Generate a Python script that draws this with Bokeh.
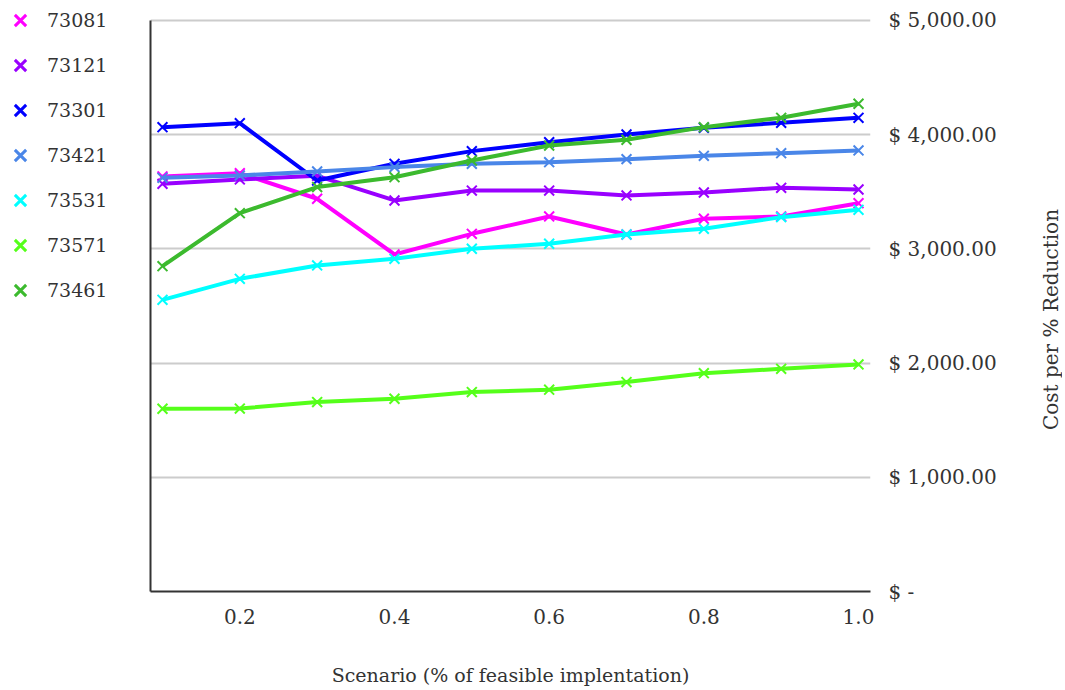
from bokeh.plotting import figure
from bokeh.layouts import row
from bokeh.models import (Range1d, FixedTicker, Legend, LegendItem,
                          ColumnDataSource, Label, LinearAxis)
from bokeh.embed import file_html
from bokeh.resources import INLINE

scenario = [0.1, 0.2, 0.3, 0.4, 0.5, 0.6, 0.7, 0.8, 0.9, 1.0]
s73081 = [3634, 3663, 3439, 2951, 3132, 3284, 3126, 3264, 3284, 3400]
s73121 = [3570, 3608, 3640, 3424, 3511, 3511, 3468, 3494, 3535, 3520]
s73301 = [4066, 4101, 3599, 3745, 3856, 3934, 4002, 4060, 4104, 4148]
s73421 = [3622, 3643, 3678, 3716, 3745, 3759, 3786, 3815, 3838, 3862]
s73531 = [2554, 2738, 2855, 2913, 3001, 3045, 3126, 3176, 3278, 3342]
s73571 = [1600, 1602, 1659, 1688, 1746, 1767, 1834, 1912, 1950, 1988]
s73461 = [2849, 3313, 3541, 3628, 3774, 3905, 3955, 4066, 4148, 4271]

series_names = ["73081", "73121", "73301", "73421", "73531", "73571", "73461"]
series_values = [s73081, s73121, s73301, s73421, s73531, s73571, s73461]
colors = ["#ff00ff", "#9900ff", "#0000ff", "#4a86e8", "#00ffff", "#55ff1a", "#3cba2e"]

x_ticks = [0.2, 0.4, 0.6, 0.8, 1.0]
y_ticks = [0, 1000, 2000, 3000, 4000, 5000]
y_tick_labels = ["$ -", "$ 1,000.00", "$ 2,000.00", "$ 3,000.00", "$ 4,000.00", "$ 5,000.00"]

FONT = "DejaVu Serif"
TXT = "#333333"
H = 688
FRAME_BOTTOM = 591   # page y of the plot frame's bottom edge

# ---------------- main chart ----------------
p = figure(width=890, height=H, output_backend="svg", toolbar_location=None,
           x_range=Range1d(0.0845, 1.0155), y_range=Range1d(0, 5175),
           y_axis_location="right",
           min_border_left=10, min_border_right=160, min_border_top=0,
           min_border_bottom=97)
p.outline_line_color = None
p.background_fill_color = "white"
p.border_fill_color = "white"

xa = p.xaxis[0]
xa.ticker = FixedTicker(ticks=x_ticks)
xa.major_label_overrides = {t: f"{t:.1f}" for t in x_ticks}
xa.axis_line_color = "#333333"
xa.axis_line_width = 2
xa.major_tick_line_color = None
xa.minor_tick_line_color = None
xa.major_tick_out = 0
xa.major_label_text_font = FONT
xa.major_label_text_font_size = "20px"
xa.major_label_text_color = TXT
xa.major_label_standoff = 17
xa.axis_label = "Scenario (% of feasible implentation)"
xa.axis_label_text_font = FONT
xa.axis_label_text_font_size = "19px"
xa.axis_label_text_font_style = "normal"
xa.axis_label_text_color = TXT
xa.axis_label_standoff = 37

ya = p.yaxis[0]
ya.ticker = FixedTicker(ticks=y_ticks)
ya.major_label_overrides = dict(zip(y_ticks, y_tick_labels))
ya.axis_line_color = None
ya.major_tick_line_color = None
ya.minor_tick_line_color = None
ya.major_tick_out = 0
ya.major_label_text_font = FONT
ya.major_label_text_font_size = "20px"
ya.major_label_text_color = TXT
ya.major_label_standoff = 18

# left axis: line only, spanning the value range
la = LinearAxis(ticker=FixedTicker(ticks=[]), bounds=(y_ticks[0], y_ticks[-1]),
                major_tick_out=0, major_tick_in=0, major_label_standoff=0,
                major_tick_line_color=None, minor_tick_line_color=None,
                axis_line_color="#333333", axis_line_width=2)
p.add_layout(la, "left")

p.xgrid.grid_line_color = None
p.ygrid.grid_line_color = "#cccccc"
p.ygrid.grid_line_width = 2

for vals, col in zip(series_values, colors):
    src = ColumnDataSource(dict(x=scenario, y=vals))
    p.line("x", "y", source=src, line_color=col, line_width=4)
    p.scatter("x", "y", source=src, marker="x", size=14, line_color=col,
              line_width=2)

# ---------------- legend panel (left) ----------------
lg = figure(width=140, height=H, output_backend="svg", toolbar_location=None,
            x_range=Range1d(-3, -2), y_range=Range1d(-3, -2),
            x_axis_type=None, y_axis_type=None,
            min_border_left=0, min_border_right=0, min_border_top=0,
            min_border_bottom=0)
lg.outline_line_color = None
lg.grid.visible = False
items = []
for name, vals, col in zip(series_names, series_values, colors):
    r = lg.scatter(x=scenario[:1], y=vals[:1], marker="x", size=14,
                   line_color=col, line_width=3)
    items.append(LegendItem(label=name, renderers=[r]))
legend = Legend(items=items, location=(0, FRAME_BOTTOM - 310),
                orientation="vertical",
                glyph_width=40, glyph_height=40, label_height=20,
                spacing=5, padding=0, margin=0, label_standoff=7,
                label_text_font=FONT, label_text_font_size="19px",
                label_text_color=TXT, border_line_color=None,
                background_fill_alpha=0)
lg.add_layout(legend, "center")

# ---------------- right axis title ----------------
tf = figure(width=32, height=H, output_backend="svg", toolbar_location=None,
            x_range=Range1d(0, 1), y_range=Range1d(0, 1),
            x_axis_type=None, y_axis_type=None,
            min_border_left=0, min_border_right=0, min_border_top=0,
            min_border_bottom=0)
tf.outline_line_color = None
tf.grid.visible = False
tf.add_layout(Label(x=20, y=FRAME_BOTTOM - 319, x_units="screen", y_units="screen",
                    text="Cost per % Reduction", angle=90, angle_units="deg",
                    text_align="center", text_baseline="middle",
                    text_font=FONT, text_font_size="20px", text_color=TXT))

layout = row(lg, p, tf, spacing=0)
open("out.html", "w").write(file_html(layout, INLINE))
